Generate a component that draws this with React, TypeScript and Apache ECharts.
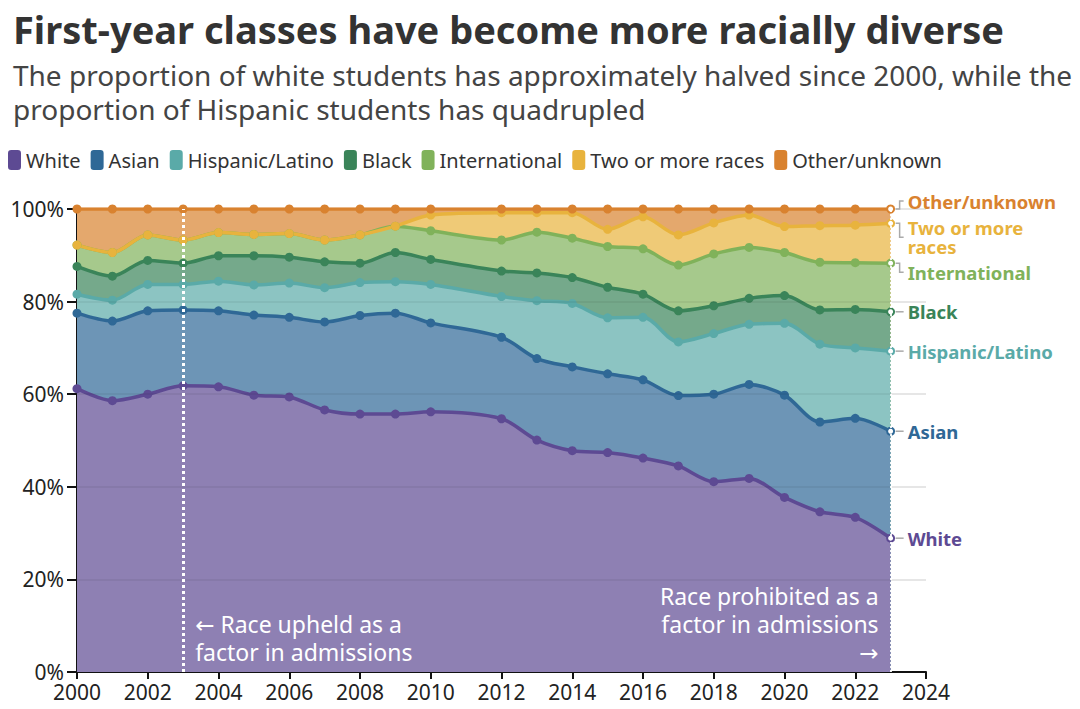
import React, { useEffect, useRef } from "react";
import * as echarts from "echarts";

// Years with data (2011 is not reported in the source)
const years = [2000, 2001, 2002, 2003, 2004, 2005, 2006, 2007, 2008, 2009, 2010, 2012, 2013, 2014, 2015, 2016, 2017, 2018, 2019, 2020, 2021, 2022, 2023];

// Share of first-year class (%) by group
const white = [61.2, 58.6, 60.0, 61.8, 61.6, 59.8, 59.4, 56.6, 55.7, 55.7, 56.2, 54.7, 50.1, 47.8, 47.4, 46.2, 44.5, 41.1, 41.8, 37.7, 34.6, 33.4, 28.9];
const asian = [16.3, 17.2, 18.0, 16.4, 16.4, 17.3, 17.2, 19.0, 21.3, 21.8, 19.2, 17.6, 17.6, 18.1, 17.0, 16.9, 15.2, 18.9, 20.3, 22.1, 19.4, 21.4, 23.1];
const hispanic = [4.1, 4.5, 5.7, 5.5, 6.4, 6.5, 7.4, 7.4, 7.1, 6.8, 8.3, 8.8, 12.5, 13.7, 12.1, 13.5, 11.6, 13.1, 13.0, 15.5, 16.8, 15.2, 17.3];
const black = [6.0, 5.2, 5.2, 4.6, 5.5, 6.3, 5.6, 5.6, 4.2, 6.3, 5.4, 5.5, 6.0, 5.6, 6.6, 5.0, 6.7, 6.0, 5.6, 6.0, 7.4, 8.3, 8.5];
const international = [4.6, 5.1, 5.5, 5.0, 5.0, 4.6, 5.1, 4.7, 6.1, 5.7, 6.2, 6.7, 8.8, 8.5, 8.8, 9.8, 9.9, 11.2, 11.0, 9.3, 10.3, 10.1, 10.5];
const twoOrMore = [0, 0, 0, 0, 0, 0, 0, 0, 0, 0, 3.4, 5.9, 4.2, 5.5, 3.7, 6.9, 6.5, 6.7, 7.0, 5.6, 7.9, 8.1, 8.6];
const other = [7.8, 9.4, 5.6, 6.7, 5.1, 5.5, 5.3, 6.7, 5.6, 3.7, 1.3, 0.8, 0.8, 0.8, 4.4, 1.7, 5.6, 3.0, 1.3, 3.8, 3.6, 3.5, 3.1];

const groupNames = ["White", "Asian", "Hispanic/Latino", "Black", "International", "Two or more races", "Other/unknown"];
const groupValues = [white, asian, hispanic, black, international, twoOrMore, other];
const groupColors = ["#5D4A93", "#2F6896", "#5AAAA8", "#3A8459", "#80B25A", "#E8B33D", "#D9822F"];
const endLabels = ["White", "Asian", "Hispanic/Latino", "Black", "International", "Two or more\nraces", "Other/unknown"];
const endLabelShift = [0, 0, 0, 0, 9, 14, -8];

const xTicks = { min: 2000, max: 2024, interval: 2 };
const yTicks = { min: 0, max: 100, interval: 20 };
const gridLevels = [20, 40, 60, 80];
const upheldYear = 2003;
const prohibitedYear = 2023;

const FONT = "'Noto Sans', 'DejaVu Sans', sans-serif";

function tint(hex: string, alpha: number) {
  const n = parseInt(hex.slice(1), 16);
  const ch = [(n >> 16) & 255, (n >> 8) & 255, n & 255].map((c) => Math.round(c * alpha + 255 * (1 - alpha)));
  return `rgb(${ch[0]},${ch[1]},${ch[2]})`;
}

export default function App() {
  const ref = useRef<HTMLDivElement>(null);
  useEffect(() => {
    if (!ref.current) return;
    const chart = echarts.init(ref.current, null, { renderer: "svg" });
    const lastIdx = years.length - 1;

    // running totals: top edge of each group's band
    const tops: number[][] = [];
    groupValues.forEach((vals, gi) => {
      tops.push(vals.map((v, i) => Math.min(100, +((gi > 0 ? tops[gi - 1][i] : 0) + v).toFixed(2))));
    });

    const SMOOTH = 0.3;
    // band fills, drawn from the top group down so each band shows between its edges
    const areaSeries: any[] = groupNames
      .map((name, gi) => ({
        name: name + " band",
        type: "line",
        smooth: SMOOTH,
        symbol: "none",
        silent: true,
        z: 2,
        lineStyle: { width: 0 },
        areaStyle: { color: tint(groupColors[gi], 0.7), opacity: 1, origin: "start" },
        emphasis: { disabled: true },
        data: years.map((y, i) => [y, tops[gi][i]]),
      }))
      .reverse();
    areaSeries[areaSeries.length - 1].markLine = {
      silent: true,
      symbol: ["none", "none"],
      label: { show: false },
      lineStyle: { color: "rgba(0,0,0,0.05)", width: 2, type: "solid" },
      data: gridLevels.map((v) => [{ coord: [years[0], v] }, { coord: [years[lastIdx], v] }]),
    };

    const lineSeries: any[] = groupNames.map((name, gi) => {
      const color = groupColors[gi];
      const s: any = {
        name,
        type: "line",
        smooth: SMOOTH,
        symbol: "circle",
        symbolSize: 9,
        showAllSymbol: true,
        z: 3,
        lineStyle: { width: 3.5, color },
        itemStyle: { color },
        emphasis: { disabled: true },
        data: years.map((y, i) =>
          i === lastIdx
            ? { value: [y, tops[gi][i]], symbolSize: 7, itemStyle: { color: "#fff", borderColor: color, borderWidth: 2 } }
            : [y, tops[gi][i]]
        ),
      };
      if (gi === groupNames.length - 1) {
        s.markLine = {
          silent: true,
          symbol: ["none", "none"],
          label: { show: false },
          data: [
            { xAxis: upheldYear, lineStyle: { color: "#ffffff", width: 3, type: [3, 3] } },
            { xAxis: prohibitedYear, lineStyle: { color: "rgba(255,255,255,0.9)", width: 2, type: [2, 2] } },
          ],
        };
      }
      return s;
    });

    chart.setOption({
      animation: false,
      textStyle: { fontFamily: FONT },
      title: {
        text: "First-year classes have become more racially diverse",
        subtext: "The proportion of white students has approximately halved since 2000, while the\nproportion of Hispanic students has quadrupled",
        left: 8,
        top: 5,
        itemGap: 10,
        textStyle: { fontSize: 38, fontWeight: "bold", color: "#333", fontFamily: FONT },
        subtextStyle: { fontSize: 28, color: "#444", lineHeight: 34, fontFamily: FONT },
      },
      legend: {
        left: 8,
        top: 150,
        padding: 0,
        icon: "roundRect",
        itemWidth: 13,
        itemHeight: 20,
        itemGap: 10,
        textStyle: { fontSize: 20, color: "#333", fontFamily: FONT },
        data: groupNames,
      },
      grid: { left: 77, right: 154, top: 209, bottom: 37 },
      xAxis: {
        type: "value",
        min: xTicks.min,
        max: xTicks.max,
        interval: xTicks.interval,
        axisLine: { show: true, lineStyle: { color: "#111", width: 2 } },
        axisTick: { show: true, length: 7, lineStyle: { color: "#111", width: 2 } },
        axisLabel: { fontSize: 21, color: "#222", margin: 9, formatter: (v: number) => String(v), fontFamily: FONT },
        splitLine: { show: false },
      },
      yAxis: {
        type: "value",
        min: yTicks.min,
        max: yTicks.max,
        interval: yTicks.interval,
        axisLine: { show: true, lineStyle: { color: "#111", width: 2 } },
        axisTick: { show: true, length: 10, lineStyle: { color: "#111", width: 2 } },
        axisLabel: { fontSize: 21, color: "#222", margin: 13, formatter: "{value}%", fontFamily: FONT },
        splitLine: { show: true, lineStyle: { color: "#e6e6e6", width: 2 } },
      },
      series: [...areaSeries, ...lineSeries],
    });

    // Annotations and end labels positioned from the chart's own scales
    const px = (x: number, y: number) => chart.convertToPixel({ xAxisIndex: 0, yAxisIndex: 0 }, [x, y]) as number[];
    const graphics: any[] = [];
    groupNames.forEach((_, gi) => {
      const [xe, ye] = px(years[lastIdx], tops[gi][lastIdx]);
      const yl = ye + endLabelShift[gi];
      graphics.push({
        type: "polyline",
        silent: true,
        z: 10,
        shape: { points: [[xe + 5, ye], [xe + 9, ye], [xe + 9, yl], [xe + 13, yl]] },
        style: { stroke: "#aaa", lineWidth: 1.5, fill: null },
      });
      graphics.push({
        type: "text",
        silent: true,
        z: 10,
        x: xe + 17,
        y: yl,
        style: {
          text: endLabels[gi],
          fill: groupColors[gi],
          font: `bold 18.5px ${FONT}`,
          verticalAlign: "middle",
          lineHeight: 19,
        },
      });
    });
    const [xu, y0] = px(upheldYear, 0);
    graphics.push({
      type: "text",
      silent: true,
      z: 10,
      x: xu + 12,
      y: y0 - 6,
      style: {
        text: "← Race upheld as a\nfactor in admissions",
        fill: "#fff",
        font: `23px ${FONT}`,
        lineHeight: 28,
        verticalAlign: "bottom",
        align: "left",
      },
    });
    const [xp] = px(prohibitedYear, 0);
    graphics.push({
      type: "text",
      silent: true,
      z: 10,
      x: xp - 12,
      y: y0 - 6,
      style: {
        text: "Race prohibited as a\nfactor in admissions\n→",
        fill: "#fff",
        font: `23px ${FONT}`,
        lineHeight: 28,
        verticalAlign: "bottom",
        align: "right",
      },
    });
    chart.setOption({ graphic: graphics });

    return () => chart.dispose();
  }, []);
  return <div ref={ref} style={{ position: "absolute", left: 0, top: 0, width: 1080, height: 709 }} />;
}
